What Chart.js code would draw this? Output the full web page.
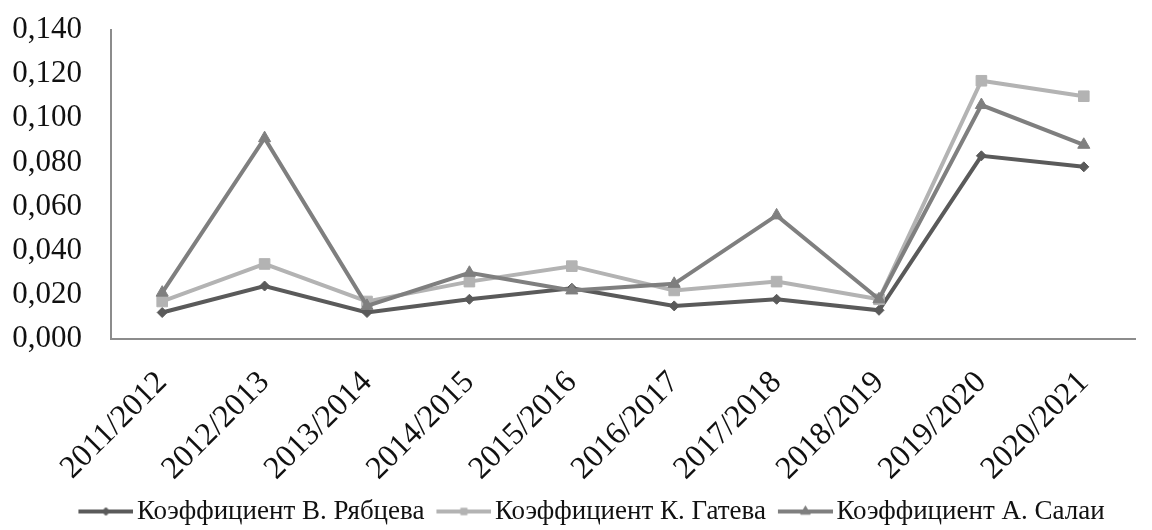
<!DOCTYPE html>
<html>
<head>
<meta charset="utf-8">
<script src="https://cdn.jsdelivr.net/npm/chart.js@4.4.1/dist/chart.umd.min.js"></script>
<style>
  html, body { margin: 0; padding: 0; background: #fff; }
  #wrap { width: 1152px; height: 530px; }
</style>
</head>
<body>
<div id="wrap"><canvas id="chart"></canvas></div>
<script>
const seasons = ['2011/2012', '2012/2013', '2013/2014', '2014/2015', '2015/2016',
  '2016/2017', '2017/2018', '2018/2019', '2019/2020', '2020/2021'];

const ryabtsev = [0.012, 0.024, 0.012, 0.018, 0.023, 0.015, 0.018, 0.013, 0.083, 0.078];
const gateva   = [0.017, 0.034, 0.017, 0.026, 0.033, 0.022, 0.026, 0.018, 0.117, 0.110];
const salai    = [0.021, 0.091, 0.015, 0.030, 0.022, 0.025, 0.056, 0.018, 0.106, 0.088];

const seriesNames = ['Коэффициент В. Рябцева', 'Коэффициент К. Гатева', 'Коэффициент А. Салаи'];

const FONT = "'Liberation Serif', 'Times New Roman', serif";

// картинка для легенды: линия с маркером, сдвинута влево внутри прозрачного холста
function legendSample(color, style, r) {
  const c = document.createElement('canvas');
  c.width = 73;
  c.height = 16;
  const ctx = c.getContext('2d');
  ctx.strokeStyle = color;
  ctx.lineWidth = 4;
  ctx.beginPath();
  ctx.moveTo(18, 8);
  ctx.lineTo(73, 8);
  ctx.stroke();
  ctx.fillStyle = color;
  ctx.strokeStyle = color;
  ctx.lineWidth = 1;
  Chart.helpers.drawPoint(ctx, {pointStyle: style, radius: r, borderWidth: 1}, 45.5, 8);
  return c;
}

function makeSet(label, data, color, style, radius, order) {
  return {
    label: label,
    data: data,
    borderColor: color,
    backgroundColor: color,
    borderWidth: 4,
    pointStyle: style,
    pointRadius: radius,
    pointBorderWidth: 1,
    pointBorderColor: color,
    pointBackgroundColor: color,
    tension: 0,
    order: order
  };
}

const legendStyles = [['#5a5a5a', 'rectRot', 4], ['#b3b3b3', 'rect', 4.5], ['#7f7f7f', 'triangle', 5.5]];

// легенда в оригинале немного правее центра
const shiftLegend = {
  id: 'shiftLegend',
  afterLayout(chart) {
    chart.legend.left += 20;
    chart.legend.right += 20;
  }
};

const chart = new Chart(document.getElementById('chart'), {
  type: 'line',
  data: {
    labels: seasons,
    datasets: [
      makeSet(seriesNames[0], ryabtsev, '#5a5a5a', 'rectRot', 5, 3),
      makeSet(seriesNames[1], gateva, '#b3b3b3', 'rect', 7.5, 2),
      makeSet(seriesNames[2], salai, '#7f7f7f', 'triangle', 7, 1)
    ]
  },
  plugins: [shiftLegend],
  options: {
    responsive: true,
    maintainAspectRatio: false,
    animation: false,
    layout: {
      padding: {top: 30, right: 17, bottom: -5, left: 0}
    },
    scales: {
      x: {
        offset: true,
        grid: {display: true, drawOnChartArea: false, drawTicks: false},
        border: {display: true, color: '#8c8c8c', width: 2},
        ticks: {
          autoSkip: false,
          minRotation: 45,
          maxRotation: 45,
          padding: 25,
          labelOffset: 0,
          color: '#111',
          font: {family: FONT, size: 32}
        },
        afterFit: (scale) => { scale.height = 155; }
      },
      y: {
        min: 0,
        max: 0.14,
        grid: {display: true, drawOnChartArea: false, drawTicks: false},
        border: {display: true, color: '#8c8c8c', width: 2},
        ticks: {
          stepSize: 0.02,
          padding: 29,
          color: '#111',
          font: {family: FONT, size: 31},
          callback: (v) => v.toFixed(3).replace('.', ',')
        },
        // ширина оси подогнана так, чтобы линия оси была на x=111
        afterFit: (scale) => {
          scale.width = 111;
          scale.paddingTop = 10;
          scale.paddingBottom = 10;
        }
      }
    },
    plugins: {
      tooltip: {enabled: false},
      legend: {
        position: 'bottom',
        labels: {
          usePointStyle: true,
          pointStyleWidth: 53,
          padding: 4,
          color: '#111',
          font: {family: FONT, size: 27},
          generateLabels: (ch) => ch.data.datasets.map((ds, i) => ({
            text: ds.label,
            datasetIndex: i,
            fillStyle: legendStyles[i][0],
            strokeStyle: legendStyles[i][0],
            lineWidth: 0,
            fontColor: '#111',
            pointStyle: legendSample(legendStyles[i][0], legendStyles[i][1], legendStyles[i][2]),
            hidden: false
          }))
        }
      }
    }
  }
});
</script>
</body>
</html>
